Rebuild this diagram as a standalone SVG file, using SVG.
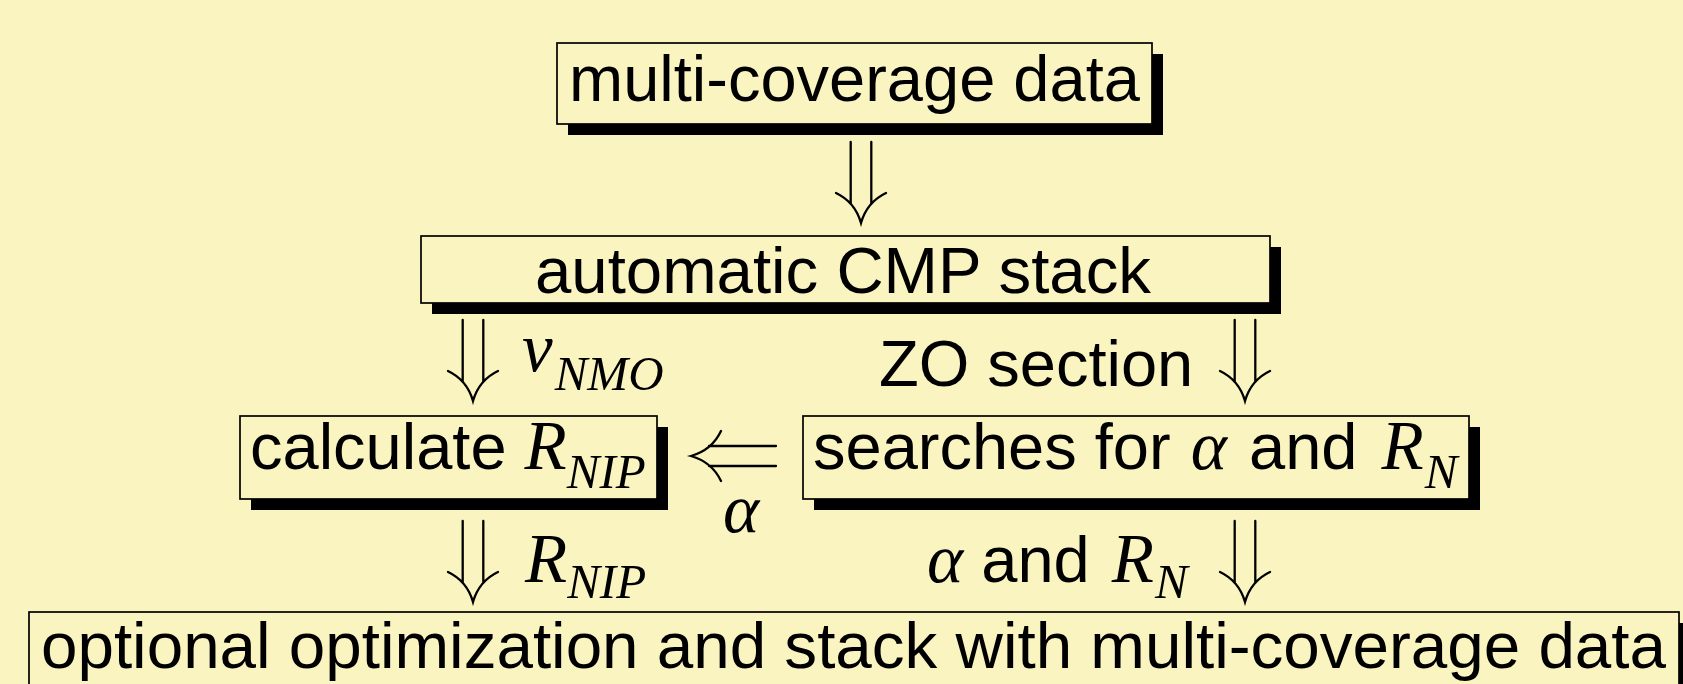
<svg xmlns="http://www.w3.org/2000/svg" width="1683" height="684" viewBox="0 0 1683 684">
<style>
.bg{fill:#FAF4C1}
.box{fill:#FAF4C1;stroke:#000;stroke-width:1.7}
.sh{fill:#000}
.t{font-family:"Liberation Sans",Arial,sans-serif;font-size:65px;fill:#000}
.m{font-family:"Liberation Serif","Times New Roman",serif;font-style:italic;font-size:69px;fill:#000}
.sub{font-size:49px}
.ar{fill:none;stroke:#000;stroke-width:2.3;stroke-linecap:round}
</style>
<defs>
<path id="dn" d="M-10.3,-81 V-19 M10.3,-81 V-19 M-25,-30 Q-6,-21 0,0 Q6,-21 25,-30"/>
</defs>
<rect class="bg" x="0" y="0" width="1683" height="684"/>

<g id="connectors" class="ar">
<use href="#dn" x="861" y="223"/>
<use href="#dn" x="473" y="401"/>
<use href="#dn" x="1245" y="401"/>
<use href="#dn" x="473" y="602"/>
<use href="#dn" x="1245" y="602"/>
<path d="M776,446 H709 M776,466 H709 M721,431 Q712,450 691,456 Q712,462 721,481"/>
</g>

<g id="labels">
<text x="522" y="371" class="m">v<tspan class="sub" dy="19" dx="2">NMO</tspan></text>
<text x="879" y="386" class="t">ZO section</text>
<text x="723" y="532" class="m" font-size="74">α</text>
<text x="525" y="582" class="m">R<tspan class="sub" dy="16">NIP</tspan></text>
<text x="927" y="582" class="t"><tspan class="m" font-size="73">α</tspan> and <tspan class="m" dx="4">R</tspan><tspan class="m sub" dy="16" dx="1">N</tspan></text>
</g>

<g id="n1">
<rect class="sh" x="568" y="54" width="595" height="81"/>
<rect class="box" x="557" y="43" width="595" height="81"/>
<text x="569" y="101" class="t">multi-coverage data</text>
</g>

<g id="n2">
<rect class="sh" x="432" y="247" width="849" height="67"/>
<rect class="box" x="421" y="236" width="849" height="67"/>
<text x="535" y="293" class="t" textLength="616" lengthAdjust="spacingAndGlyphs">automatic CMP stack</text>
</g>

<g id="n3">
<rect class="sh" x="251" y="427" width="417" height="83"/>
<rect class="box" x="240" y="416" width="417" height="83"/>
<text x="250" y="469" class="t">calculate <tspan class="m">R</tspan><tspan class="m sub" dy="19">NIP</tspan></text>
</g>

<g id="n4">
<rect class="sh" x="814" y="427" width="666" height="83"/>
<rect class="box" x="803" y="416" width="666" height="83"/>
<text x="813" y="469" class="t">searches for <tspan class="m" font-size="73" dx="2">α</tspan><tspan dx="4"> and </tspan><tspan class="m" dx="6">R</tspan><tspan class="m sub" dy="19" dx="1">N</tspan></text>
</g>

<g id="n5">
<rect class="sh" x="40" y="623" width="1650" height="90"/>
<rect class="box" x="29" y="612" width="1650" height="90"/>
<text x="41" y="668" class="t" textLength="1625" lengthAdjust="spacingAndGlyphs">optional optimization and stack with multi-coverage data</text>
</g>
</svg>
